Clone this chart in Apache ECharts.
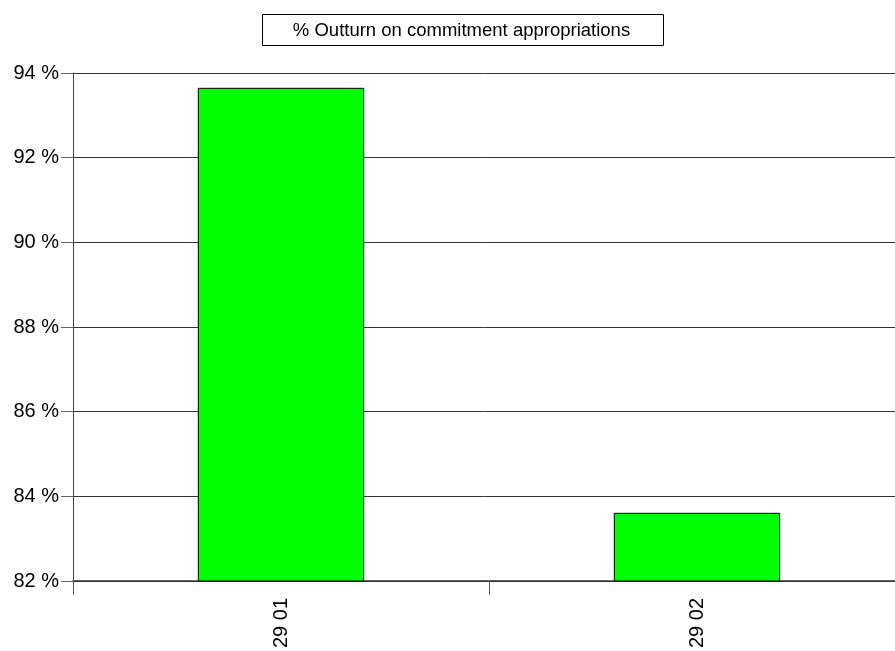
<!DOCTYPE html>
<html>
<head>
<meta charset="utf-8">
<script src="https://cdn.jsdelivr.net/npm/echarts@6/dist/echarts.min.js"></script>
<style>
  html, body { margin: 0; padding: 0; background: #fff; }
  #chart { width: 895px; height: 651px; }
</style>
</head>
<body>
<div id="chart"></div>
<script>
// Budget lines and their outturn rate on commitment appropriations (%)
const categories = ['29 01', '29 02'];
const outturn = [93.65, 83.61];
const yTicks = { min: 82, max: 94, step: 2 };
const legendText = '% Outturn on commitment appropriations';

const chart = echarts.init(document.getElementById('chart'), null, { renderer: 'canvas' });

chart.setOption({
  animation: false,
  backgroundColor: '#ffffff',
  textStyle: { fontFamily: 'Liberation Sans, Arial, sans-serif' },
  // the plot area runs a little past the right edge of the canvas
  grid: {
    left: 73, top: 73, width: 832, height: 508,
    containLabel: false,
    outerBoundsMode: 'none'
  },
  graphic: [
    {
      type: 'group',
      left: 262,
      top: 14,
      children: [
        {
          type: 'rect',
          shape: { x: 0, y: 0, width: 401, height: 31 },
          style: { fill: '#fff', stroke: '#000', lineWidth: 1 }
        },
        {
          type: 'text',
          x: 199,
          y: 16,
          style: {
            text: legendText,
            align: 'center',
            verticalAlign: 'middle',
            fill: '#000',
            font: '18.5px "Liberation Sans", Arial, sans-serif'
          }
        }
      ]
    }
  ],
  xAxis: {
    type: 'category',
    data: categories,
    boundaryGap: true,
    axisLine: { show: true, lineStyle: { color: '#333', width: 1.5 } },
    axisTick: { show: true, length: 14, alignWithLabel: false, lineStyle: { color: '#555' } },
    axisLabel: {
      rotate: 90,
      margin: 17,
      color: '#000',
      fontSize: 20,
      fontFamily: 'Liberation Sans, Arial, sans-serif'
    },
    splitLine: { show: false }
  },
  yAxis: {
    type: 'value',
    min: yTicks.min,
    max: yTicks.max,
    interval: yTicks.step,
    axisLine: { show: true, lineStyle: { color: '#444', width: 1 } },
    axisTick: { show: true, length: 12, lineStyle: { color: '#666' } },
    axisLabel: {
      formatter: '{value} %',
      margin: 14,
      color: '#000',
      fontSize: 20,
      fontFamily: 'Liberation Sans, Arial, sans-serif'
    },
    splitLine: { show: true, lineStyle: { color: '#333', width: 1 } }
  },
  series: [
    {
      type: 'bar',
      name: legendText,
      data: outturn,
      barWidth: '40%',
      itemStyle: { color: '#00ff00', borderColor: '#000', borderWidth: 1 }
    }
  ]
});
</script>
</body>
</html>
